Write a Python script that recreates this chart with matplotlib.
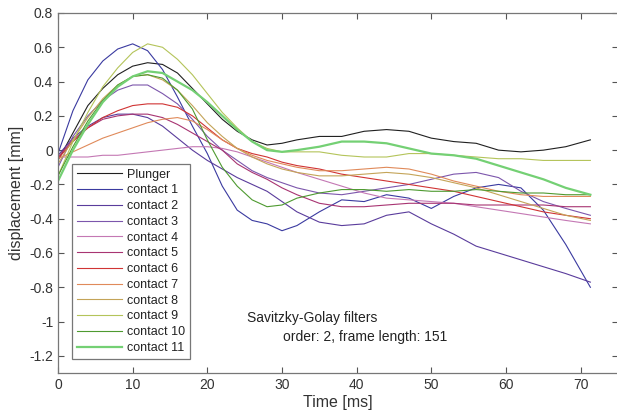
import matplotlib
matplotlib.use('Agg')
import matplotlib.pyplot as plt
from matplotlib.ticker import FuncFormatter

plt.rcParams['font.family'] = ['Liberation Sans', 'DejaVu Sans']
plt.rcParams['axes.unicode_minus'] = False

# sample times [ms]
t = [0, 2, 4, 6, 8, 10, 12, 14, 16, 18, 20, 22, 24, 26, 28, 30, 32, 35, 38, 41,
     44, 47, 50, 53, 56, 59, 62, 65, 68, 71.3]

# displacement [mm]
plunger = [-0.06, 0.10, 0.26, 0.36, 0.44, 0.49, 0.51, 0.50, 0.45, 0.36, 0.27, 0.18,
           0.11, 0.06, 0.03, 0.04, 0.06, 0.08, 0.08, 0.11, 0.12, 0.11, 0.07, 0.05,
           0.04, 0.00, -0.01, 0.00, 0.02, 0.06]
c1 = [-0.02, 0.23, 0.41, 0.52, 0.59, 0.62, 0.58, 0.47, 0.31, 0.14, -0.02, -0.21,
      -0.35, -0.41, -0.43, -0.47, -0.44, -0.36, -0.29, -0.30, -0.26, -0.28, -0.34,
      -0.27, -0.22, -0.20, -0.22, -0.35, -0.55, -0.80]
c2 = [-0.03, 0.07, 0.14, 0.19, 0.21, 0.21, 0.19, 0.14, 0.07, 0.00, -0.06, -0.11,
      -0.16, -0.20, -0.24, -0.30, -0.36, -0.42, -0.44, -0.43, -0.38, -0.36, -0.43,
      -0.49, -0.56, -0.60, -0.64, -0.68, -0.72, -0.77]
c3 = [-0.10, 0.08, 0.20, 0.29, 0.35, 0.38, 0.38, 0.33, 0.27, 0.18, 0.08, 0.00,
      -0.06, -0.12, -0.16, -0.19, -0.22, -0.25, -0.26, -0.24, -0.22, -0.20, -0.17,
      -0.14, -0.13, -0.16, -0.24, -0.30, -0.34, -0.38]
c4 = [-0.04, -0.04, -0.04, -0.03, -0.03, -0.02, -0.01, 0.00, 0.01, 0.02, 0.02, 0.01,
      -0.01, -0.04, -0.07, -0.10, -0.13, -0.17, -0.21, -0.25, -0.28, -0.29, -0.30,
      -0.31, -0.33, -0.35, -0.37, -0.39, -0.41, -0.43]
c5 = [-0.04, 0.06, 0.13, 0.18, 0.20, 0.21, 0.21, 0.19, 0.15, 0.10, 0.05, 0.00,
      -0.08, -0.13, -0.17, -0.22, -0.26, -0.31, -0.33, -0.33, -0.32, -0.31, -0.31,
      -0.31, -0.32, -0.32, -0.32, -0.32, -0.33, -0.33]
c6 = [-0.05, 0.05, 0.13, 0.19, 0.23, 0.26, 0.27, 0.27, 0.25, 0.20, 0.13, 0.06,
      0.01, -0.02, -0.04, -0.07, -0.09, -0.11, -0.14, -0.16, -0.18, -0.20, -0.22,
      -0.24, -0.27, -0.30, -0.33, -0.36, -0.38, -0.40]
c7 = [-0.05, -0.01, 0.03, 0.07, 0.10, 0.13, 0.16, 0.18, 0.19, 0.17, 0.12, 0.06,
      0.01, -0.03, -0.06, -0.08, -0.10, -0.12, -0.12, -0.11, -0.10, -0.11, -0.14,
      -0.18, -0.21, -0.24, -0.26, -0.27, -0.27, -0.27]
c8 = [-0.08, 0.06, 0.19, 0.30, 0.38, 0.43, 0.44, 0.41, 0.35, 0.26, 0.16, 0.08,
      0.01, -0.04, -0.08, -0.11, -0.13, -0.15, -0.15, -0.14, -0.13, -0.14, -0.16,
      -0.19, -0.22, -0.26, -0.30, -0.34, -0.38, -0.41]
c9 = [-0.15, 0.05, 0.22, 0.37, 0.48, 0.57, 0.62, 0.60, 0.53, 0.44, 0.33, 0.22,
      0.13, 0.05, 0.01, -0.01, -0.01, -0.01, -0.03, -0.04, -0.04, -0.02, -0.02,
      -0.03, -0.04, -0.05, -0.05, -0.06, -0.06, -0.06]
c10 = [-0.15, 0.02, 0.17, 0.29, 0.38, 0.43, 0.44, 0.42, 0.35, 0.24, 0.06, -0.10,
       -0.21, -0.29, -0.33, -0.32, -0.28, -0.25, -0.23, -0.23, -0.24, -0.23, -0.24,
       -0.24, -0.23, -0.24, -0.25, -0.25, -0.26, -0.26]
c11 = [-0.18, 0.00, 0.15, 0.28, 0.37, 0.43, 0.46, 0.45, 0.40, 0.35, 0.28, 0.20,
       0.12, 0.05, 0.00, -0.01, 0.00, 0.02, 0.05, 0.05, 0.04, 0.01, -0.02, -0.03,
       -0.05, -0.09, -0.13, -0.17, -0.22, -0.26]

series = [plunger, c1, c2, c3, c4, c5, c6, c7, c8, c9, c10, c11]
labels = ['Plunger'] + ['contact %d' % i for i in range(1, 12)]
colors = ['#202020', '#3a3aa0', '#5a3c9c', '#7c56ac', '#c478b4', '#a83472',
          '#d03434', '#e08a5a', '#c4a458', '#b4c45a', '#4e9a30', '#74d074']
widths = [0.8] * 11 + [1.6]

fig = plt.figure(figsize=(6.17, 4.16), dpi=100)
ax = fig.add_axes([58 / 617, 1 - 373 / 416, 560 / 617, 360 / 416])

for y, lab, col, lw in zip(series, labels, colors, widths):
    ax.plot(t, y, color=col, lw=lw, label=lab)

ax.set_xlim(0, 75)
ax.set_ylim(-1.3, 0.8)
ax.set_xticks(range(0, 71, 10))
ax.set_yticks([-1.2, -1.0, -0.8, -0.6, -0.4, -0.2, 0, 0.2, 0.4, 0.6, 0.8])
ax.yaxis.set_major_formatter(FuncFormatter(lambda v, p: '%g' % round(v, 1)))
ax.tick_params(direction='in', top=True, right=True, length=4, width=0.8,
               labelsize=10, colors='#555555', labelcolor='#333333')
for s in ax.spines.values():
    s.set_color('#777777')
    s.set_linewidth(0.9)

ax.set_xlabel('Time [ms]', fontsize=11.5, color='#333333', labelpad=2)
ax.set_ylabel('displacement [mm]', fontsize=11.5, color='#333333', labelpad=4)

ax.text(25.3, -0.98, 'Savitzky-Golay filters', fontsize=10, color='#222222',
        va='center')
ax.text(30.1, -1.09, 'order: 2, frame length: 151', fontsize=10, color='#222222',
        va='center')

leg = ax.legend(loc='lower left', bbox_to_anchor=(0.025, 0.039), borderaxespad=0,
                fontsize=9, handlelength=3.6, handletextpad=0.4, labelspacing=0.3,
                borderpad=0.4, fancybox=False, framealpha=1)
leg.get_frame().set_edgecolor('#777777')
leg.get_frame().set_linewidth(0.9)
for txt in leg.get_texts():
    txt.set_color('#222222')

fig.savefig('out.png', dpi=100)
